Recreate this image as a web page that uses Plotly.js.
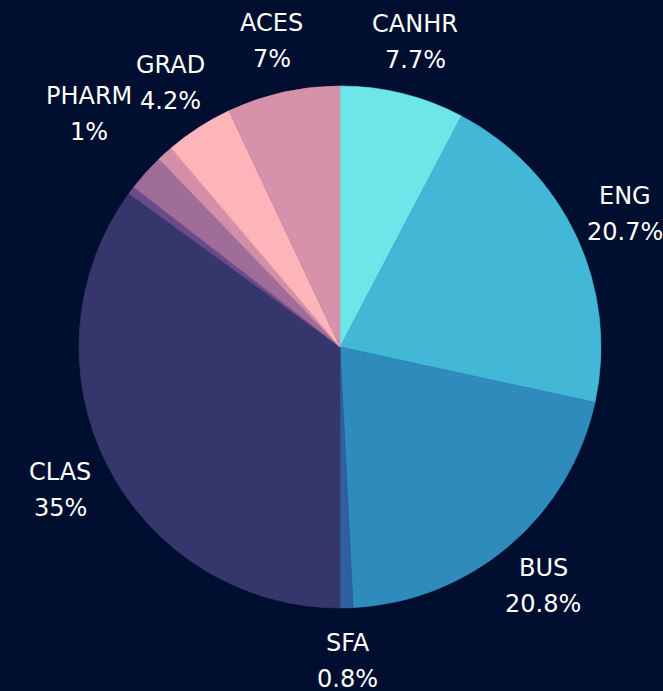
<!DOCTYPE html>
<html>
<head>
<meta charset="utf-8">
<script src="https://cdn.plot.ly/plotly-3.0.1.min.js"></script>
<style>html,body{margin:0;padding:0;background:#000f2f;}</style>
</head>
<body>
<div id="chart" style="width:663px;height:691px;"></div>
<script>
const labels = ["CANHR", "ENG", "BUS", "SFA", "CLAS", "OTHER1", "OTHER2", "PHARM", "GRAD", "ACES"];
const values = [7.7, 20.7, 20.8, 0.8, 35, 0.5, 2.3, 1, 4.2, 7];
const shownLabels = [true, true, true, true, true, false, false, true, true, true];
const colors = ["#6ce6e8", "#42b8d6", "#2e8bbb", "#2f5f9f", "#35376c", "#6a4a8a", "#a06c98", "#d48fa8", "#feb5b9", "#d592aa"];

const W = 663, H = 691;
const M = {l: 78, r: 61, t: 86, b: 83};
const FONT_FAMILY = "DejaVu Sans";
const FONT_SIZE = 24;
const LABEL_GAP = 53;     // distance of label centre outside the pie edge
const HALF_LINE = 18;     // half the distance between label lines

const pw = W - M.l - M.r, ph = H - M.t - M.b;
const cx = M.l + pw / 2, cy = M.t + ph / 2, R = Math.min(pw, ph) / 2;

const ctx = document.createElement("canvas").getContext("2d");
ctx.font = FONT_SIZE + "px '" + FONT_FAMILY + "'";
const measure = s => ctx.measureText(s).width;

const total = values.reduce((a, b) => a + b, 0);
let cum = 0;
const items = [];
values.forEach((v, i) => {
  const mid = (cum + v / 2) / total * 2 * Math.PI;
  cum += v;
  if (!shownLabels[i]) return;
  const name = labels[i], pct = v + "%";
  items.push({
    name, pct, v,
    x: cx + (R + LABEL_GAP) * Math.sin(mid),
    y: cy - (R + LABEL_GAP) * Math.cos(mid),
    w: Math.max(measure(name), measure(pct)),
    h: 2 * HALF_LINE + FONT_SIZE * 0.8
  });
});

// place larger slices first, push smaller ones sideways if they collide
const placed = [];
items.slice().sort((a, b) => b.v - a.v).forEach(it => {
  const sign = it.x < cx ? -1 : 1;
  for (const p of placed) {
    const overlapX = Math.abs(it.x - p.x) < (it.w + p.w) / 2;
    const overlapY = Math.abs(it.y - p.y) < (it.h + p.h) / 2 - 8;
    if (overlapX && overlapY) {
      it.x = p.x + sign * ((it.w + p.w) / 2 + 3);
    }
  }
  placed.push(it);
});

const font = {family: FONT_FAMILY, size: FONT_SIZE, color: "#ffffff"};
const annotations = [];
items.forEach(it => {
  const xp = (it.x - M.l) / pw;
  [[it.name, it.y - HALF_LINE], [it.pct, it.y + HALF_LINE]].forEach(([t, y]) => {
    annotations.push({
      text: t, xref: "paper", yref: "paper",
      x: xp, y: 1 - (y - M.t) / ph,
      xanchor: "center", yanchor: "middle",
      showarrow: false, font: font
    });
  });
});

Plotly.newPlot("chart", [{
  type: "pie",
  labels: labels,
  values: values,
  textinfo: "none",
  sort: false,
  direction: "clockwise",
  rotation: 0,
  marker: {colors: colors, line: {width: 0.6, color: colors}},
  showlegend: false,
  hoverinfo: "label+percent"
}], {
  width: W,
  height: H,
  paper_bgcolor: "#000f2f",
  plot_bgcolor: "#000f2f",
  margin: M,
  showlegend: false,
  annotations: annotations
}, {displayModeBar: false});
</script>
</body>
</html>
